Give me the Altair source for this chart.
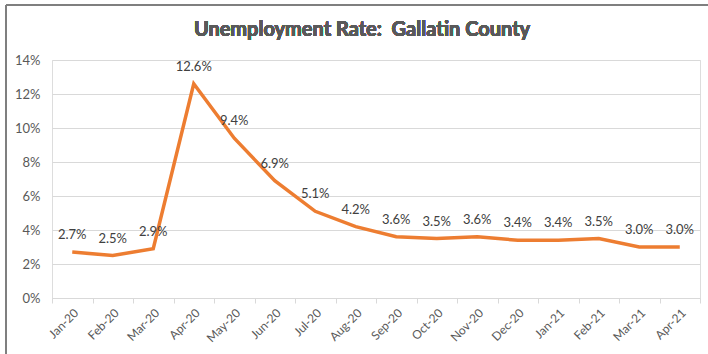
import altair as alt
import pandas as pd

months = ["Jan-20", "Feb-20", "Mar-20", "Apr-20", "May-20", "Jun-20", "Jul-20", "Aug-20",
          "Sep-20", "Oct-20", "Nov-20", "Dec-20", "Jan-21", "Feb-21", "Mar-21", "Apr-21"]
rates = [2.7, 2.5, 2.9, 12.6, 9.4, 6.9, 5.1, 4.2, 3.6, 3.5, 3.6, 3.4, 3.4, 3.5, 3.0, 3.0]
y_ticks = [0, 0.02, 0.04, 0.06, 0.08, 0.10, 0.12, 0.14]
title_text = "Unemployment Rate:\u00a0 Gallatin County"

df = pd.DataFrame({"month": months, "rate": [r / 100 for r in rates]})

FONT = "Lato"
GRAY = "#595959"

x = alt.X("month:N", sort=months, title=None,
          scale=alt.Scale(paddingInner=0, paddingOuter=0),
          axis=alt.Axis(labelAngle=-45, labelFontSize=12, labelColor=GRAY, labelFont=FONT,
                        domainColor="#D9D9D9", tickColor="#D9D9D9", tickSize=5,
                        tickBand="extent", labelPadding=4, grid=False))
y = alt.Y("rate:Q", title=None,
          scale=alt.Scale(domain=[0, 0.14], nice=False),
          axis=alt.Axis(values=y_ticks, format=".0%", labelFontSize=13, labelColor=GRAY,
                        labelFont=FONT, domain=False, ticks=False, gridColor="#D9D9D9",
                        labelPadding=12))

base = alt.Chart(df)
line = base.mark_line(color="#ED7D31", strokeWidth=3.5).encode(x=x, y=y)
labels = base.mark_text(dy=-17, fontSize=13, color="#404040", font=FONT).encode(
    x=x, y=y, text=alt.Text("rate:Q", format=".1%"))

title = alt.Chart(df).mark_text(fontSize=20, font=FONT, fontWeight="bold", color=GRAY,
                                align="center", baseline="middle").encode(
    text=alt.value(title_text), x=alt.value(310), y=alt.value(-30))

border_left = alt.Chart(df).mark_rule(color="#7F7F7F", strokeWidth=1.5).encode(
    x=alt.value(-46), y=alt.value(-55), y2=alt.value(300))
border_top = alt.Chart(df).mark_rule(color="#7F7F7F", strokeWidth=1.5).encode(
    x=alt.value(-46), x2=alt.value(660), y=alt.value(-55))

chart = alt.layer(line, labels, title, border_left, border_top).properties(
    width=648, height=238,
    autosize=alt.AutoSizeParams(type="none"),
    padding={"left": 52, "top": 60, "right": 8, "bottom": 56},
).configure_view(stroke=None).configure(background="white")

chart.save("out.html", embed_options={"renderer": "svg", "actions": False})
